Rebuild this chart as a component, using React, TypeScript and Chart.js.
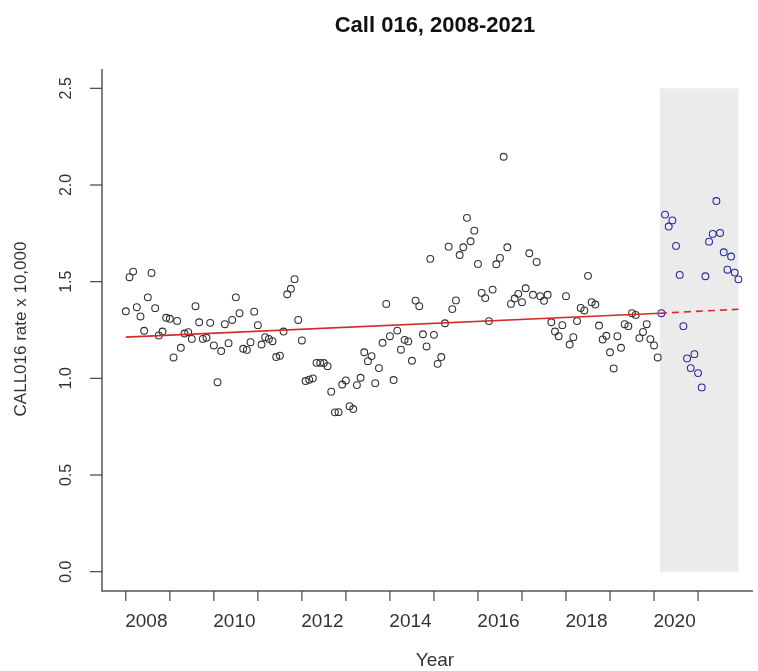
import React, { useEffect, useRef } from 'react';
import { Chart, registerables } from 'chart.js';
Chart.register(...registerables);

// ---- data ----
const chartTitle = 'Call 016, 2008-2021';
const xTitle = 'Year';
const yTitle = 'CALL016 rate x 10,000';
const firstYear = 2008;
const tickYears = [2008, 2009, 2010, 2011, 2012, 2013, 2014, 2015, 2016, 2017, 2018, 2019, 2020, 2021];
const yearLabels = ['2008', '2010', '2012', '2014', '2016', '2018', '2020'];
const yTickValues = [0, 0.5, 1, 1.5, 2, 2.5];
const yTickLabels = ['0.0', '0.5', '1.0', '1.5', '2.0', '2.5'];

// monthly rates Jan 2008 .. Feb 2020
const ratePre = [
  1.347, 1.523, 1.552, 1.368, 1.320, 1.246, 1.419, 1.545, 1.363, 1.222, 1.242, 1.313,
  1.308, 1.108, 1.297, 1.158, 1.232, 1.239, 1.204, 1.373, 1.290, 1.204, 1.210, 1.287,
  1.170, 0.980, 1.141, 1.280, 1.182, 1.302, 1.419, 1.337, 1.153, 1.147, 1.187, 1.345,
  1.275, 1.175, 1.213, 1.204, 1.192, 1.110, 1.117, 1.242, 1.435, 1.463, 1.513, 1.302,
  1.196, 0.986, 0.993, 1.000, 1.080, 1.080, 1.079, 1.063, 0.931, 0.824, 0.825, 0.968,
  0.989, 0.856, 0.841, 0.965, 1.003, 1.135, 1.089, 1.115, 0.975, 1.053, 1.184, 1.385,
  1.218, 0.991, 1.247, 1.148, 1.199, 1.191, 1.091, 1.402, 1.373, 1.228, 1.165, 1.618,
  1.225, 1.075, 1.110, 1.285, 1.681, 1.358, 1.403, 1.638, 1.678, 1.830, 1.709, 1.764,
  1.592, 1.442, 1.415, 1.296, 1.459, 1.590, 1.623, 2.146, 1.678, 1.385, 1.413, 1.437,
  1.394, 1.466, 1.647, 1.432, 1.602, 1.425, 1.401, 1.432, 1.290, 1.242, 1.218, 1.275,
  1.425, 1.175, 1.213, 1.296, 1.364, 1.351, 1.530, 1.394, 1.382, 1.273, 1.201, 1.220,
  1.135, 1.051, 1.218, 1.158, 1.280, 1.270, 1.337, 1.328, 1.208, 1.240, 1.280, 1.203,
  1.170, 1.108,
];
// monthly rates Mar 2020 .. Dec 2021
const rateCovid = [
  1.337, 1.847, 1.785, 1.817, 1.685, 1.535, 1.270, 1.103, 1.053, 1.125, 1.027, 0.953,
  1.528, 1.707, 1.747, 1.917, 1.752, 1.652, 1.562, 1.630, 1.547, 1.512,
];
// linear trend (month index, value)
const trendSolidX = [0, 145.6];
const trendSolidY = [1.213, 1.337];
const trendDashX = [145.6, 167];
const trendDashY = [1.337, 1.357];
// shaded period (month index) and its value range
const shadeFrom = 145.6;
const shadeTo = 167.0;
const shadeLow = 0;
const shadeHigh = 2.5;

const FONT = "'Liberation Sans', Arial, sans-serif";

const decor = {
  id: 'decor',
  beforeDatasetsDraw(chart: any) {
    const { ctx, scales } = chart;
    const x = scales.x, y = scales.y;
    const x0 = x.getPixelForValue(shadeFrom), x1 = x.getPixelForValue(shadeTo);
    const y0 = y.getPixelForValue(shadeHigh), y1 = y.getPixelForValue(shadeLow);
    ctx.save();
    ctx.fillStyle = '#ebebeb';
    ctx.fillRect(x0, y0, x1 - x0, y1 - y0);
    ctx.restore();
  },
  afterDraw(chart: any) {
    const { ctx, chartArea, scales } = chart;
    const x = scales.x, y = scales.y;
    const L = chartArea.left, R = chartArea.right, T = chartArea.top, B = chartArea.bottom;
    ctx.save();
    // L-shaped frame
    ctx.strokeStyle = '#555';
    ctx.lineWidth = 1.5;
    ctx.beginPath();
    ctx.moveTo(L, T);
    ctx.lineTo(L, B);
    ctx.lineTo(R, B);
    ctx.stroke();
    // y ticks
    ctx.lineWidth = 1.2;
    ctx.strokeStyle = '#444';
    ctx.fillStyle = '#333';
    ctx.font = `16px ${FONT}`;
    ctx.textAlign = 'center';
    ctx.textBaseline = 'middle';
    yTickValues.forEach((v, i) => {
      const py = y.getPixelForValue(v);
      ctx.beginPath();
      ctx.moveTo(L - 12, py);
      ctx.lineTo(L, py);
      ctx.stroke();
      ctx.save();
      ctx.translate(67, py);
      ctx.rotate(-Math.PI / 2);
      ctx.fillText(yTickLabels[i], 0, 0);
      ctx.restore();
    });
    // x ticks
    tickYears.forEach((yr) => {
      const px = x.getPixelForValue((yr - firstYear) * 12);
      ctx.beginPath();
      ctx.moveTo(px, B);
      ctx.lineTo(px, B + 10);
      ctx.stroke();
    });
    ctx.font = `19px ${FONT}`;
    yearLabels.forEach((lab) => {
      const px = x.getPixelForValue((Number(lab) - firstYear) * 12 + 5.6);
      ctx.fillText(lab, px, 622);
    });
    // axis titles
    ctx.fillText(xTitle, 435, 661);
    ctx.font = `17px ${FONT}`;
    ctx.save();
    ctx.translate(21, 329);
    ctx.rotate(-Math.PI / 2);
    ctx.fillText(yTitle, 0, 0);
    ctx.restore();
    // main title
    ctx.fillStyle = '#111';
    ctx.font = `bold 22px ${FONT}`;
    ctx.fillText(chartTitle, 435, 26);
    ctx.restore();
  },
};

export default function App() {
  const ref = useRef<HTMLCanvasElement>(null);
  useEffect(() => {
    if (!ref.current) return;
    const prePts = ratePre.map((v, i) => ({ x: i, y: v }));
    const covidPts = rateCovid.map((v, i) => ({ x: ratePre.length + i, y: v }));
    const chart = new Chart(ref.current, {
      type: 'scatter',
      data: {
        datasets: [
          {
            data: trendSolidX.map((v, i) => ({ x: v, y: trendSolidY[i] })),
            showLine: true,
            borderColor: '#d42a2a',
            borderWidth: 1.6,
            pointRadius: 0,
            fill: false,
          },
          {
            data: trendDashX.map((v, i) => ({ x: v, y: trendDashY[i] })),
            showLine: true,
            borderColor: '#d42a2a',
            borderWidth: 1.6,
            borderDash: [7, 5],
            pointRadius: 0,
            fill: false,
          },
          {
            data: covidPts,
            pointStyle: 'circle',
            pointRadius: 3.4,
            borderWidth: 1.1,
            borderColor: '#2a2a9c',
            backgroundColor: 'rgba(0,0,0,0)',
          },
          {
            data: prePts,
            pointStyle: 'circle',
            pointRadius: 3.4,
            borderWidth: 1.1,
            borderColor: '#333',
            backgroundColor: 'rgba(0,0,0,0)',
          },
        ],
      },
      options: {
        responsive: false,
        animation: false,
        devicePixelRatio: 1,
        layout: { padding: { left: 102, right: 0, top: 69, bottom: 80 } },
        plugins: { legend: { display: false }, tooltip: { enabled: false }, title: { display: false } },
        scales: {
          x: { type: 'linear', min: -6.49, max: 170.95, display: false },
          y: { type: 'linear', min: -0.1, max: 2.6, display: false },
        },
      },
      plugins: [decor],
    });
    return () => chart.destroy();
  }, []);
  return (
    <div style={{ position: 'absolute', left: 0, top: 0, width: 758, height: 671, background: '#fff' }}>
      <canvas ref={ref} width={758} height={671} style={{ display: 'block', width: 758, height: 671 }} />
    </div>
  );
}
